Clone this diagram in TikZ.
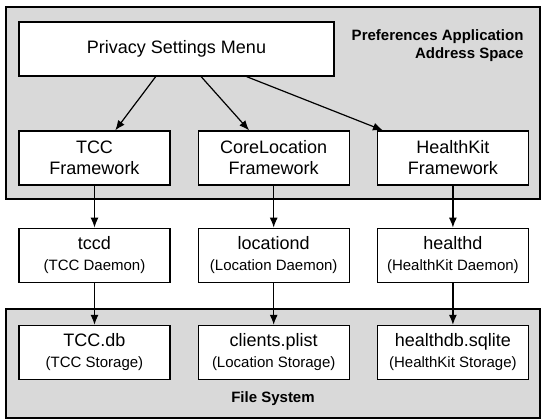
\documentclass[tikz,border=0pt]{standalone}
\usepackage{fontspec}
\setmainfont{Liberation Sans}
\usetikzlibrary{
  arrows.meta,
  positioning
}
\newcommand{\subtext}[1]{{\fontsize{15}{18}\selectfont #1}}

\begin{document}
\begin{tikzpicture}[x=1pt,y=1pt,node distance = 42pt and 27pt,
    >={Latex[length=10pt,width=8pt]},
    space/.style={draw,line width=1.2pt,fill=black!15,minimum width=534pt,inner sep=0pt},
    block/.style={draw,line width=1.2pt,fill=white,minimum width=151pt,minimum height=54pt,
      align=center,inner sep=0pt,font=\fontsize{18}{21}\selectfont},
    title/.style={font=\bfseries\fontsize{15}{18}\selectfont}]
    \useasboundingbox (0,0) rectangle (546,420);

    \node[space,minimum height=192pt] (app) at (273,317) {};
    \node[space,minimum height=109pt] (fs) at (273,56.5) {};
    \node[title,align=right,anchor=east] (applabel) at (527,374) {Preferences Application\\Address Space};
    \node[title] (fslabel) at (273,21) {File System};

    \node[block,minimum width=315pt] (menu) at (176.5,371) {Privacy Settings Menu};
    \node[block] (tcc) at (94.5,262) {TCC\\Framework};
    \node[block,right = of tcc] (cl) {CoreLocation\\Framework};
    \node[block,right = of cl] (hk) {HealthKit\\Framework};
    \node[block,below = of tcc] (tccd) {tccd\\\subtext{(TCC Daemon)}};
    \node[block,below = of cl] (locd) {locationd\\\subtext{(Location Daemon)}};
    \node[block,below = of hk] (hkd) {healthd\\\subtext{(HealthKit Daemon)}};
    \node[block,below = of tccd] (tccdb) {TCC.db\\\subtext{(TCC Storage)}};
    \node[block,below = of locd] (plist) {clients.plist\\\subtext{(Location Storage)}};
    \node[block,below = of hkd] (sqlite) {healthdb.sqlite\\\subtext{(HealthKit Storage)}};

    \draw[->,line width=1.2pt] (menu) -- (tcc);
    \draw[->,line width=1.2pt] (menu) -- (cl);
    \draw[->,line width=1.2pt] (menu) -- (hk);
    \draw[->,line width=1.2pt] (tcc) -- (tccd);
    \draw[->,line width=1.2pt] (cl) -- (locd);
    \draw[->,line width=1.2pt] (hk) -- (hkd);
    \draw[->,line width=1.2pt] (tccd) -- (tccdb);
    \draw[->,line width=1.2pt] (locd) -- (plist);
    \draw[->,line width=1.2pt] (hkd) -- (sqlite);
  \end{tikzpicture}
\end{document}
